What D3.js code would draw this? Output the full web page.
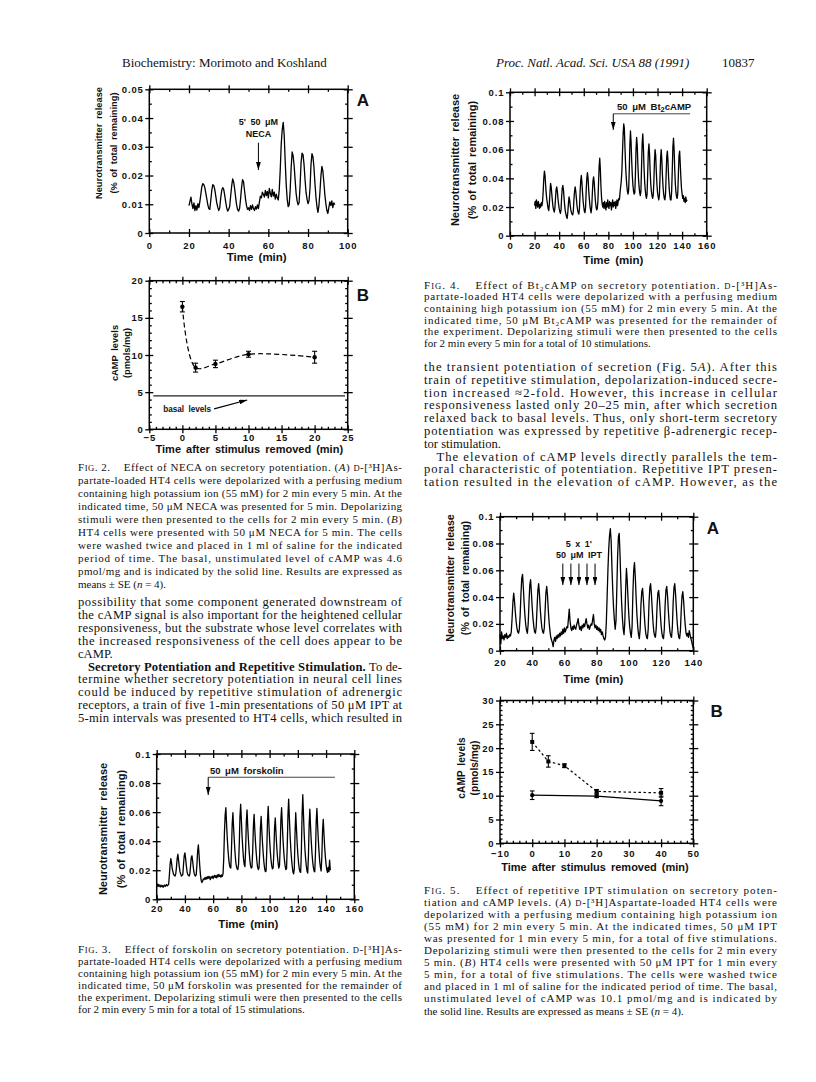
<!DOCTYPE html>
<html><head><meta charset="utf-8">
<script src="https://cdn.jsdelivr.net/npm/d3@7"></script>
<style>
body{margin:0;background:#fff;}
svg{display:block;}
.serif{font-family:"Liberation Serif","Times New Roman",serif;fill:#111;white-space:pre;}
.sans{font-family:"Liberation Sans",Arial,sans-serif;font-weight:bold;fill:#111;}
</style></head><body>
<svg id="page" width="816" height="1082"></svg>
<script>
// ---------------- DATA ----------------
// Fig 2A: release sampled every 0.5 min from 20 min
const fig2aStart = 20, fig2aStep = 0.5;
const fig2aRelease = [.0095,.011,.0125,.010,.0085,.0105,.0078,.0095,.008,.0102,.0088,.011,.0135,.0162,.0172,.0168,.0158,.0138,.0118,.0098,
.0085,.0082,.0115,.0148,.0168,.0165,.0152,.0128,.0105,.009,
.0078,.0088,.0122,.0148,.0158,.0152,.0132,.0108,.0088,.0076,
.0082,.0092,.0128,.0162,.0188,.0178,.0155,.0125,.0098,.0082,
.0076,.0085,.0118,.0158,.0186,.0178,.0148,.0118,.0095,.0082,
.0088,.0078,.0095,.0082,.0098,.0085,.0078,.0092,.0083,.0098,
.0085,.0108,.0128,.0122,.0142,.0135,.0125,.0148,.013,.0145,
.0122,.0155,.0138,.0126,.0152,.0128,.0142,.0118,.0135,.0122,
.0115,.015,.022,.031,.036,.0385,.034,.025,.017,.0118,
.0092,.0098,.0148,.0228,.0282,.0268,.0235,.0185,.0138,.0112,
.0098,.0105,.0165,.0245,.0278,.0272,.0238,.0185,.0142,.0118,
.0102,.0112,.0155,.0238,.0276,.0265,.0228,.0172,.0125,.0092,
.0072,.0095,.0142,.0198,.0232,.0215,.0175,.0132,.0102,.0078,
.0068,.0088,.0108,.0095,.0112,.0088,.0105,.0098];
const fig2aXTicks = [0,20,40,60,80,100];
const fig2aYTicks = [0,0.01,0.02,0.03,0.04,0.05];

// Fig 2B: cAMP after NECA
const fig2bTime = [0,2,5,10,20];
const fig2bCamp = [16.5,8.3,8.8,10.1,9.7];
const fig2bSE = [0.7,0.6,0.5,0.4,0.8];
const fig2bBasal = 4.5;
const fig2bXTicks = [-5,0,5,10,15,20,25];
const fig2bYTicks = [0,5,10,15,20];

// Fig 3: forskolin
const fig3Start = 20, fig3Step = 0.5;
const fig3Release = [.011,.0095,.0088,.0102,.0092,.0085,.0098,.0088,.0095,.0082,.0092,.0098,.0088,.0095,.0102,.0092,.0098,.0105,.017,.024,
.028,.025,.021,.019,.017,.0165,.016,.0175,.022,.028,
.031,.027,.0225,.019,.0175,.016,.0165,.017,.024,.030,
.032,.028,.023,.019,.017,.0165,.016,.0175,.023,.029,
.030,.026,.0215,.018,.0165,.016,.017,.024,.033,.0375,
.031,.023,.017,.013,.0115,.0125,.014,.0135,.0148,.0138,
.0152,.014,.0155,.0145,.0158,.0148,.0135,.0155,.0148,.016,
.0142,.0158,.0165,.015,.0162,.0148,.0168,.0155,.0172,.0158,
.0165,.0152,.0168,.0158,.0175,.028,.046,.058,.063,.052,
.042,.034,.028,.024,.022,.0215,.035,.052,.0596,.049,
.040,.032,.026,.0225,.021,.0205,.024,.038,.057,.0654,
.054,.043,.035,.028,.024,.0225,.034,.053,.0615,.050,
.041,.033,.027,.023,.0215,.022,.033,.050,.0585,.048,
.039,.032,.026,.022,.0205,.0215,.032,.049,.057,.047,
.038,.031,.025,.021,.019,.0195,.034,.054,.064,.052,
.041,.033,.027,.023,.021,.0215,.032,.049,.056,.046,
.037,.030,.025,.0215,.023,.036,.055,.063,.051,.041,
.033,.027,.023,.0205,.021,.037,.058,.069,.056,.044,
.035,.028,.023,.019,.0175,.021,.045,.0596,.049,.039,
.031,.025,.021,.019,.0185,.033,.058,.072,.058,.045,
.035,.028,.023,.0195,.018,.030,.051,.062,.050,.040,
.032,.026,.022,.0195,.019,.032,.053,.0625,.051,.041,
.033,.026,.022,.0195,.029,.047,.055,.045,.036,.029,
.024,.0205,.0185,.022,.019,.027,.020];
const fig3XTicks = [20,40,60,80,100,120,140,160];
const fig3YTicks = [0,0.02,0.04,0.06,0.08,0.1];

// Fig 4: Bt2cAMP
const fig4Start = 20, fig4Step = 0.5;
const fig4Release = [.021,.024,.019,.025,.022,.020,.024,.021,.019,.022,.020,.023,.021,.024,.031,.040,.045,.042,.035,.029,
.025,.022,.019,.0175,.022,.030,.0365,.034,.029,.024,
.020,.018,.0165,.019,.026,.032,.034,.031,.026,.022,
.019,.017,.0155,.018,.027,.033,.035,.032,.026,.021,
.017,.015,.013,.012,.016,.022,.027,.025,.021,.018,
.016,.015,.0145,.017,.025,.031,.034,.031,.026,.021,
.018,.016,.015,.019,.030,.038,.042,.037,.030,.024,
.020,.017,.016,.020,.032,.040,.044,.040,.032,.026,
.021,.018,.016,.020,.030,.038,.041,.037,.030,.024,
.020,.018,.019,.024,.036,.048,.054,.046,.034,.026,
.022,.020,.023,.019,.024,.021,.018,.023,.020,.025,
.021,.019,.024,.021,.023,.018,.022,.025,.020,.023,
.021,.024,.019,.022,.025,.021,.024,.026,.025,.030,
.034,.038,.045,.058,.070,.078,.075,.062,.050,.041,
.035,.031,.029,.032,.045,.063,.073,.065,.052,.042,
.035,.031,.029,.030,.042,.060,.0686,.063,.050,.040,
.034,.030,.028,.031,.048,.064,.071,.062,.048,.038,
.032,.028,.026,.029,.043,.058,.064,.057,.045,.036,
.031,.028,.026,.028,.037,.052,.060,.056,.045,.036,
.030,.027,.025,.028,.040,.054,.060,.053,.042,.034,
.029,.026,.025,.029,.042,.055,.059,.052,.041,.033,
.028,.025,.025,.031,.046,.062,.068,.060,.046,.036,
.030,.027,.026,.030,.044,.056,.059,.050,.040,.033,
.029,.026,.028,.024,.026,.023,.027,.024,.025];
const fig4XTicks = [0,20,40,60,80,100,120,140,160];
const fig4YTicks = [0,0.02,0.04,0.06,0.08,0.1];

// Fig 5A: repetitive IPT
const fig5aStart = 20, fig5aStep = 0.5;
const fig5aRelease = [.012,.005,.014,.009,.011,.008,.012,.010,.013,.009,.011,.010,.012,.011,.014,.024,.036,.043,.037,.029,
.022,.017,.014,.013,.016,.026,.042,.054,.057,.047,
.035,.026,.019,.015,.013,.020,.036,.049,.053,.043,
.032,.024,.018,.014,.013,.018,.032,.045,.050,.042,
.031,.023,.017,.014,.013,.017,.030,.043,.048,.041,
.030,.021,.015,.010,.008,.006,.003,.008,.010,.007,
.011,.009,.012,.010,.013,.011,.014,.012,.016,.013,
.017,.014,.016,.018,.017,.024,.031,.022,.017,.015,
.018,.016,.019,.017,.016,.019,.021,.024,.019,.016,
.018,.015,.019,.017,.020,.018,.021,.024,.020,.017,
.019,.016,.018,.020,.019,.023,.027,.020,.017,.019,
.016,.018,.015,.017,.014,.016,.012,.014,.011,.009,
.008,.010,.021,.040,.060,.076,.086,.091,.082,.062,
.045,.032,.023,.016,.022,.045,.070,.085,.0876,.072,
.052,.036,.024,.016,.012,.022,.046,.0614,.052,.038,
.026,.018,.013,.010,.018,.043,.060,.0657,.055,.040,
.027,.018,.012,.009,.016,.034,.044,.0465,.038,.028,
.019,.013,.010,.009,.016,.035,.047,.050,.042,.031,
.021,.014,.011,.010,.017,.033,.043,.045,.038,.028,
.019,.013,.010,.009,.016,.034,.045,.048,.041,.030,
.021,.014,.011,.010,.018,.036,.047,.050,.042,.031,
.021,.014,.010,.009,.015,.030,.041,.044,.037,.027,
.019,.013,.011,.013,.010,.015,.012,.009,.007,.004,
.002];
const fig5aXTicks = [20,40,60,80,100,120,140];
const fig5aYTicks = [0,0.02,0.04,0.06,0.08,0.1];
const fig5aIptTimes = [59,64,69,74,79];

// Fig 5B: cAMP after IPT
const fig5bTime = [0,5,10,20,40];
const fig5bStim = [21.3,17.2,16.3,10.9,10.6];
const fig5bStimSE = [1.8,1.2,0.4,0.4,0.9];
const fig5bBasalTime = [0,20,40];
const fig5bBasal = [10.1,9.9,8.9];
const fig5bBasalSE = [0.9,0.3,1.0];
const fig5bXTicks = [-10,0,10,20,30,40,50];
const fig5bYTicks = [0,5,10,15,20,25,30];

// ---------------- TEXT ----------------
const fig2Caption = [
"F^IG^. 2.    Effect of NECA on secretory potentiation. (_A_) ^D^-[³H]As-",
"partate-loaded HT4 cells were depolarized with a perfusing medium",
"containing high potassium ion (55 mM) for 2 min every 5 min. At the",
"indicated time, 50 μM NECA was presented for 5 min. Depolarizing",
"stimuli were then presented to the cells for 2 min every 5 min. (_B_)",
"HT4 cells were presented with 50 μM NECA for 5 min. The cells",
"were washed twice and placed in 1 ml of saline for the indicated",
"period of time. The basal, unstimulated level of cAMP was 4.6",
"pmol/mg and is indicated by the solid line. Results are expressed as",
"means ± SE (_n_ = 4)."];
const leftBody = [
"possibility that some component generated downstream of",
"the cAMP signal is also important for the heightened cellular",
"responsiveness, but the substrate whose level correlates with",
"the increased responsiveness of the cell does appear to be",
"cAMP.",
"   **Secretory Potentiation and Repetitive Stimulation.** To de-",
"termine whether secretory potentiation in neural cell lines",
"could be induced by repetitive stimulation of adrenergic",
"receptors, a train of five 1-min presentations of 50 μM IPT at",
"5-min intervals was presented to HT4 cells, which resulted in"];
const fig3Caption = [
"F^IG^. 3.    Effect of forskolin on secretory potentiation. ^D^-[³H]As-",
"partate-loaded HT4 cells were depolarized with a perfusing medium",
"containing high potassium ion (55 mM) for 2 min every 5 min. At the",
"indicated time, 50 μM forskolin was presented for the remainder of",
"the experiment. Depolarizing stimuli were then presented to the cells",
"for 2 min every 5 min for a total of 15 stimulations."];
const fig4Caption = [
"F^IG^. 4.    Effect of Bt₂cAMP on secretory potentiation. ^D^-[³H]As-",
"partate-loaded HT4 cells were depolarized with a perfusing medium",
"containing high potassium ion (55 mM) for 2 min every 5 min. At the",
"indicated time, 50 μM Bt₂cAMP was presented for the remainder of",
"the experiment. Depolarizing stimuli were then presented to the cells",
"for 2 min every 5 min for a total of 10 stimulations."];
const rightBody = [
"the transient potentiation of secretion (Fig. 5_A_). After this",
"train of repetitive stimulation, depolarization-induced secre-",
"tion increased ≈2-fold. However, this increase in cellular",
"responsiveness lasted only 20–25 min, after which secretion",
"relaxed back to basal levels. Thus, only short-term secretory",
"potentiation was expressed by repetitive β-adrenergic recep-",
"tor stimulation.",
"   The elevation of cAMP levels directly parallels the tem-",
"poral characteristic of potentiation. Repetitive IPT presen-",
"tation resulted in the elevation of cAMP. However, as the"];
const fig5Caption = [
"F^IG^. 5.    Effect of repetitive IPT stimulation on secretory poten-",
"tiation and cAMP levels. (_A_) ^D^-[³H]Aspartate-loaded HT4 cells were",
"depolarized with a perfusing medium containing high potassium ion",
"(55 mM) for 2 min every 5 min. At the indicated times, 50 μM IPT",
"was presented for 1 min every 5 min, for a total of five stimulations.",
"Depolarizing stimuli were then presented to the cells for 2 min every",
"5 min. (_B_) HT4 cells were presented with 50 μM IPT for 1 min every",
"5 min, for a total of five stimulations. The cells were washed twice",
"and placed in 1 ml of saline for the indicated period of time. The basal,",
"unstimulated level of cAMP was 10.1 pmol/mg and is indicated by",
"the solid line. Results are expressed as means ± SE (_n_ = 4)."];

// ---------------- DRAWING ----------------
const svg = d3.select('#page');
svg.append('rect').attr('width',816).attr('height',1082).attr('fill','#fff');
const defs = svg.append('defs');
defs.append('marker').attr('id','ah').attr('viewBox','0 0 10 6').attr('refX',10).attr('refY',3)
  .attr('markerWidth',8).attr('markerHeight',4.8).attr('markerUnits','userSpaceOnUse').attr('orient','auto')
  .append('path').attr('d','M0,0L10,3L0,6z').attr('fill','#000');

function fillText(t, s){
  s.split(/(\*\*[^*]+\*\*|_[^_]+_|\^[^^]+\^)/).filter(p=>p).forEach(p=>{
    const ts=t.append('tspan');
    if(p.startsWith('**')) ts.text(p.slice(2,-2)).style('font-weight','bold');
    else if(p.startsWith('_')) ts.text(p.slice(1,-1)).style('font-style','italic');
    else if(p.startsWith('^')) ts.text(p.slice(1,-1)).style('font-size','78%');
    else ts.text(p);
  });
}
function textBlock(lines, x, y0, lh, width, size, noJustify){
  lines.forEach((s,i)=>{
    const t=svg.append('text').attr('class','serif').attr('x',x).attr('y',y0+i*lh).style('font-size',size+'px');
    fillText(t,s);
    if(!noJustify.includes(i)) t.attr('textLength',width).attr('lengthAdjust','spacing');
  });
}

// header
svg.append('text').attr('class','serif').attr('x',122).attr('y',67).style('font-size','13px').text('Biochemistry: Morimoto and Koshland');
svg.append('text').attr('class','serif').attr('x',496).attr('y',67).style('font-size','13px').style('font-style','italic').text('Proc. Natl. Acad. Sci. USA 88 (1991)');
svg.append('text').attr('class','serif').attr('x',722).attr('y',67).style('font-size','13px').text('10837');

// text blocks
const LX=78, LW=324, RX=424, RW=353;
textBlock(fig2Caption, LX, 470.5, 13, LW, 11, [9]);
textBlock(leftBody, LX, 606, 12.9, LW, 12.6, [4]);
textBlock(fig3Caption, LX, 952.5, 12, LW, 11, [5]);
textBlock(fig4Caption, RX, 288.5, 11.7, RW, 11, [5]);
textBlock(rightBody, RX, 371, 12.8, RW, 12.6, [6]);
textBlock(fig5Caption, RX, 893.5, 12.1, RW, 11, [10]);

function drawChart(c){
  const x=d3.scaleLinear().domain(c.xDomain).range([c.left,c.right]);
  const y=d3.scaleLinear().domain(c.yDomain).range([c.bottom,c.top]);
  const g=svg.append('g');
  const ax=(gen,scale,vals,size,fmt,tx,ty,pad)=>{
    const a=gen(scale).tickValues(vals).tickSize(size).tickPadding(pad);
    a.tickFormat(fmt||(()=>''));
    const ag=g.append('g').attr('transform',`translate(${tx},${ty})`).call(a);
    ag.select('.domain').remove();
    ag.selectAll('line').attr('stroke','#000').attr('stroke-width',1.3);
    ag.selectAll('text').attr('class','sans').style('font-size',(c.tickFont||9.5)+'px')
      .style('letter-spacing','0.9px').attr('fill','#111');
    return ag;
  };
  const xMinor=c.xMinor, yMinor=c.yMinor;
  // bottom
  ax(d3.axisBottom,x,c.xTicks,4,c.xFmt,0,c.bottom,c.xPad);
  ax(d3.axisBottom,x,c.xTicks,-4,null,0,c.bottom,0);
  ax(d3.axisBottom,x,xMinor,-2.5,null,0,c.bottom,0);
  // top
  ax(d3.axisTop,x,c.xTicks,4,null,0,c.top,0);
  ax(d3.axisTop,x,c.xTicks,-4,null,0,c.top,0);
  ax(d3.axisTop,x,xMinor,-2.5,null,0,c.top,0);
  // left
  ax(d3.axisLeft,y,c.yTicks,4,c.yFmt,c.left,0,1.5);
  ax(d3.axisLeft,y,c.yTicks,-4,null,c.left,0,0);
  ax(d3.axisLeft,y,yMinor,-2.5,null,c.left,0,0);
  // right
  ax(d3.axisRight,y,c.yTicks,5,null,c.right,0,0);
  ax(d3.axisRight,y,c.yTicks,-4,null,c.right,0,0);
  ax(d3.axisRight,y,yMinor,-2.5,null,c.right,0,0);
  g.append('rect').attr('x',c.left).attr('y',c.top).attr('width',c.right-c.left).attr('height',c.bottom-c.top)
    .attr('fill','none').attr('stroke','#000').attr('stroke-width',1.5);
  // titles
  g.append('text').attr('class','sans').attr('x',c.xTitle[0]).attr('y',c.xTitle[1]).attr('text-anchor','middle')
    .attr('dominant-baseline','central').style('font-size',(c.xTitleSize||11.5)+'px').style('word-spacing','2px').text(c.xLabel);
  c.yLabel.forEach((lab,i)=>{
    g.append('text').attr('class','sans').attr('transform',`translate(${c.yTitle[i]},${c.yTitleY}) rotate(-90)`)
      .attr('text-anchor','middle').attr('dominant-baseline','central').style('font-size',(c.yTitleSize||11)+'px')
      .style('word-spacing','2px').text(lab);
  });
  if(c.panel) g.append('text').attr('class','sans').attr('x',c.panel[1]).attr('y',c.panel[2]).attr('text-anchor','middle')
    .attr('dominant-baseline','central').style('font-size','17px').text(c.panel[0]);
  return {x,y,g};
}
const releaseFmt = d=> d===0?'0':d3.format('~g')(d);
const trace = (ch, start, step, vals)=>{
  const pts = vals.map((v,i)=>({t:start+i*step, v}));
  ch.g.append('path').datum(pts).attr('fill','none').attr('stroke','#000').attr('stroke-width',1.3)
    .attr('stroke-linejoin','round')
    .attr('d', d3.line().x(d=>ch.x(d.t)).y(d=>ch.y(d.v)));
};
const arrow = (ch, t, v0, v1)=>{
  ch.g.append('line').attr('x1',ch.x(t)).attr('x2',ch.x(t)).attr('y1',ch.y(v0)).attr('y2',ch.y(v1))
    .attr('stroke','#000').attr('stroke-width',1).attr('marker-end','url(#ah)');
};
const note = (ch, t, v, txt, anchor, size)=>{
  const el=ch.g.append('text').attr('class','sans').attr('x',ch.x(t)).attr('y',ch.y(v)).attr('text-anchor',anchor||'middle')
    .attr('dominant-baseline','central').style('font-size',(size||9.5)+'px').style('word-spacing','2px');
  return el.text(txt);
};

// ---- Fig 2A ----
const c2a = drawChart({xDomain:[0,100], yDomain:[0,0.05], left:149.3, right:347.7, top:89.3, bottom:233,
  xTicks:fig2aXTicks, xMinor:d3.range(10,100,20), yTicks:fig2aYTicks, yMinor:d3.range(0.005,0.05,0.01),
  xFmt:d3.format('d'), yFmt:releaseFmt, xPad:5, xLabel:'Time (min)', xTitle:[256.7,257],
  yLabel:['Neurotransmitter release','(% of total remaining)'], yTitle:[99,114.3], yTitleY:143, yTitleSize:9.3,
  panel:['A',363,100]});
trace(c2a, fig2aStart, fig2aStep, fig2aRelease);
note(c2a, 55, 0.0387, "5' 50 μM", 'middle', 9);
note(c2a, 55, 0.0345, 'NECA', 'middle', 9);
arrow(c2a, 55, 0.0314, 0.0219);

// ---- Fig 2B ----
const c2b = drawChart({xDomain:[-5,25], yDomain:[0,20], left:149.3, right:347.7, top:280.7, bottom:429.3,
  xTicks:fig2bXTicks, xMinor:d3.range(-4,25,1).filter(v=>v%5!==0), yTicks:fig2bYTicks, yMinor:d3.range(1,20,1).filter(v=>v%5!==0),
  xFmt:d3.format('d'), yFmt:d3.format('d'), xPad:0.5, xLabel:'Time after stimulus removed (min)', xTitle:[249.3,449], xTitleSize:11,
  yLabel:['cAMP levels','(pmols/mg)'], yTitle:[115,126.5], yTitleY:353, yTitleSize:9.3, panel:['B',363,295]});
{
  const pts = fig2bTime.map((t,i)=>({t, v:fig2bCamp[i], e:fig2bSE[i]}));
  c2b.g.append('line').attr('x1',c2b.x(-4.4)).attr('x2',c2b.x(24.6)).attr('y1',c2b.y(fig2bBasal)).attr('y2',c2b.y(fig2bBasal))
    .attr('stroke','#222').attr('stroke-width',1.3);
  c2b.g.append('path').datum(pts).attr('fill','none').attr('stroke','#000').attr('stroke-width',1.2).attr('stroke-dasharray','5,3')
    .attr('d', d3.line().curve(d3.curveCatmullRom.alpha(0.5)).x(d=>c2b.x(d.t)).y(d=>c2b.y(d.v)));
  const eb = c2b.g.selectAll('g.eb').data(pts).join('g');
  eb.append('line').attr('x1',d=>c2b.x(d.t)).attr('x2',d=>c2b.x(d.t)).attr('y1',d=>c2b.y(d.v-d.e)).attr('y2',d=>c2b.y(d.v+d.e)).attr('stroke','#000').attr('stroke-width',1.1);
  [1,-1].forEach(s=>eb.append('line').attr('x1',d=>c2b.x(d.t)-2.5).attr('x2',d=>c2b.x(d.t)+2.5)
    .attr('y1',d=>c2b.y(d.v+s*d.e)).attr('y2',d=>c2b.y(d.v+s*d.e)).attr('stroke','#000').attr('stroke-width',1.1));
  eb.append('circle').attr('cx',d=>c2b.x(d.t)).attr('cy',d=>c2b.y(d.v)).attr('r',2.2).attr('fill','#000');
  note(c2b, -2.9, 2.6, 'basal levels', 'start', 8.2);
  c2b.g.append('line').attr('x1',c2b.x(4.8)).attr('y1',c2b.y(2.75)).attr('x2',c2b.x(9.8)).attr('y2',c2b.y(3.95))
    .attr('stroke','#000').attr('stroke-width',1.1).attr('marker-end','url(#ah)');
}

// ---- Fig 3 ----
const c3 = drawChart({xDomain:[20,160], yDomain:[0,0.1], left:156.7, right:354.3, top:754, bottom:899.3,
  xTicks:fig3XTicks, xMinor:d3.range(30,160,20), yTicks:fig3YTicks, yMinor:d3.range(0.01,0.1,0.02),
  xFmt:d3.format('d'), yFmt:releaseFmt, xPad:2, xLabel:'Time (min)', xTitle:[248.3,924],
  yLabel:['Neurotransmitter release','(% of total remaining)'], yTitle:[103.3,121], yTitleY:829});
trace(c3, fig3Start, fig3Step, fig3Release);
note(c3, 57.7, 0.0885, '50 μM forskolin', 'start', 9.5);
c3.g.append('line').attr('x1',c3.x(56.5)).attr('x2',c3.x(146.3)).attr('y1',c3.y(0.084)).attr('y2',c3.y(0.084)).attr('stroke','#444').attr('stroke-width',1);
arrow(c3, 56.5, 0.084, 0.0718);

// ---- Fig 4 ----
const c4 = drawChart({xDomain:[0,160], yDomain:[0,0.1], left:510, right:706.7, top:92.3, bottom:235.7,
  xTicks:fig4XTicks, xMinor:d3.range(10,160,20), yTicks:fig4YTicks, yMinor:d3.range(0.01,0.1,0.02),
  xFmt:d3.format('d'), yFmt:releaseFmt, xPad:3, xLabel:'Time (min)', xTitle:[613.3,260],
  yLabel:['Neurotransmitter release','(% of total remaining)'], yTitle:[455.3,472], yTitleY:160});
trace(c4, fig4Start, fig4Step, fig4Release);
{
  const t=c4.g.append('text').attr('class','sans').attr('x',c4.x(87)).attr('y',c4.y(0.0905)).attr('dominant-baseline','central').style('font-size','9.5px').style('word-spacing','2px');
  t.append('tspan').text('50 μM Bt');
  t.append('tspan').text('2').attr('dy',3).style('font-size','7.5px');
  t.append('tspan').text('cAMP').attr('dy',-3);
  c4.g.append('line').attr('x1',c4.x(84)).attr('x2',c4.x(146.5)).attr('y1',c4.y(0.085)).attr('y2',c4.y(0.085)).attr('stroke','#444').attr('stroke-width',1);
  arrow(c4, 84, 0.085, 0.0738);
}

// ---- Fig 5A ----
const c5a = drawChart({xDomain:[20,140], yDomain:[0,0.1], left:500, right:693.3, top:516.7, bottom:650.7,
  xTicks:fig5aXTicks, xMinor:d3.range(30,140,20), yTicks:fig5aYTicks, yMinor:d3.range(0.01,0.1,0.02),
  xFmt:d3.format('d'), yFmt:releaseFmt, xPad:5, xLabel:'Time (min)', xTitle:[593.3,679],
  yLabel:['Neurotransmitter release','(% of total remaining)'], yTitle:[450,465], yTitleY:578, yTitleSize:10.6,
  panel:['A',713,528]});
trace(c5a, fig5aStart, fig5aStep, fig5aRelease);
note(c5a, 69, 0.0796, "5 x 1'", 'middle', 9);
note(c5a, 69, 0.0714, '50 μM IPT', 'middle', 9);
fig5aIptTimes.forEach(t=>arrow(c5a, t, 0.065, 0.049));

// ---- Fig 5B ----
const c5b = drawChart({xDomain:[-10,50], yDomain:[0,30], left:500, right:693.3, top:700.5, bottom:843.3,
  xTicks:fig5bXTicks, xMinor:d3.range(-8,50,2).filter(v=>v%10!==0), yTicks:fig5bYTicks, yMinor:d3.range(1,30,1).filter(v=>v%5!==0),
  xFmt:d3.format('d'), yFmt:d3.format('d'), xPad:2.5, xLabel:'Time after stimulus removed (min)', xTitle:[595,867], xTitleSize:11,
  yLabel:['cAMP levels','(pmols/mg)'], yTitle:[461.5,474], yTitleY:768, yTitleSize:10.2, panel:['B',716.7,711.7]});
{
  const sp = fig5bTime.map((t,i)=>({t, v:fig5bStim[i], e:fig5bStimSE[i]}));
  const bp = fig5bBasalTime.map((t,i)=>({t, v:fig5bBasal[i], e:fig5bBasalSE[i]}));
  const ln = d3.line().x(d=>c5b.x(d.t)).y(d=>c5b.y(d.v));
  c5b.g.append('path').datum(bp).attr('fill','none').attr('stroke','#000').attr('stroke-width',1.2).attr('d',ln);
  c5b.g.append('path').datum(sp).attr('fill','none').attr('stroke','#000').attr('stroke-width',1.2).attr('stroke-dasharray','2.5,2.5').attr('d',ln);
  [sp,bp].forEach((pts,k)=>{
    const eb = c5b.g.append('g').selectAll('g').data(pts).join('g');
    eb.append('line').attr('x1',d=>c5b.x(d.t)).attr('x2',d=>c5b.x(d.t)).attr('y1',d=>c5b.y(d.v-d.e)).attr('y2',d=>c5b.y(d.v+d.e)).attr('stroke','#000').attr('stroke-width',1.1);
    [1,-1].forEach(s=>eb.append('line').attr('x1',d=>c5b.x(d.t)-2.3).attr('x2',d=>c5b.x(d.t)+2.3)
      .attr('y1',d=>c5b.y(d.v+s*d.e)).attr('y2',d=>c5b.y(d.v+s*d.e)).attr('stroke','#000').attr('stroke-width',1.1));
    if(k===0) eb.append('rect').attr('x',d=>c5b.x(d.t)-2).attr('y',d=>c5b.y(d.v)-2).attr('width',4).attr('height',4).attr('fill','#000');
    else eb.append('circle').attr('cx',d=>c5b.x(d.t)).attr('cy',d=>c5b.y(d.v)).attr('r',2.1).attr('fill','#000');
  });
}
</script>
</body></html>
